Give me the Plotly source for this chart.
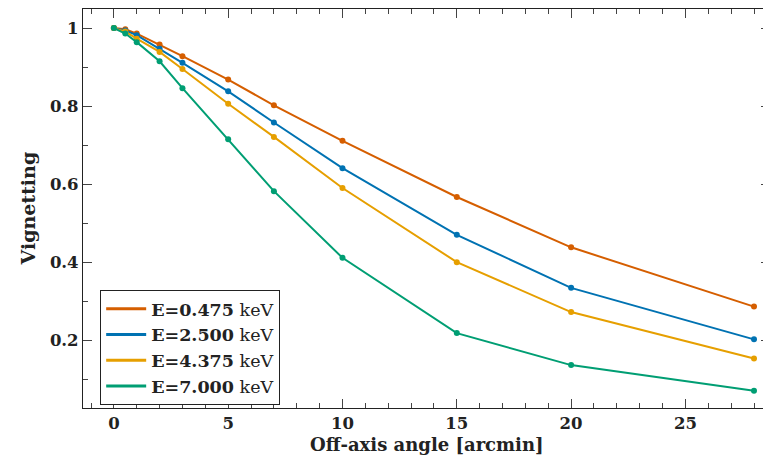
import plotly.graph_objects as go

angles = [0, 0.5, 1, 2, 3, 5, 7, 10, 15, 20, 28]
v_0475 = [1.0, 0.997, 0.986, 0.958, 0.928, 0.868, 0.802, 0.711, 0.567, 0.438, 0.286]
v_2500 = [1.0, 0.994, 0.982, 0.947, 0.911, 0.838, 0.758, 0.641, 0.470, 0.334, 0.202]
v_4375 = [1.0, 0.991, 0.973, 0.939, 0.895, 0.806, 0.721, 0.590, 0.400, 0.272, 0.153]
v_7000 = [1.0, 0.986, 0.964, 0.915, 0.846, 0.715, 0.582, 0.411, 0.218, 0.136, 0.070]

series = [
    ("0.475", v_0475, "#D55E00"),
    ("2.500", v_2500, "#0072B2"),
    ("4.375", v_4375, "#E69F00"),
    ("7.000", v_7000, "#009E73"),
]

FONT = "DejaVu Serif"

fig = go.Figure()
for lab, vals, col in series:
    fig.add_trace(go.Scatter(
        x=angles, y=vals, mode="lines+markers", showlegend=False,
        line=dict(color=col, width=2),
        marker=dict(color=col, size=6),
    ))
for lab, vals, col in series:
    fig.add_trace(go.Scatter(
        x=[None], y=[None], mode="lines",
        name=f"<b>E={lab}</b> keV",
        line=dict(color=col, width=3),
    ))

axis_common = dict(
    showline=True, linecolor="#222", linewidth=1.2, mirror="allticks",
    ticks="inside", tickcolor="#444", showgrid=False, zeroline=False,
    automargin=False,
    tickfont=dict(family=FONT, size=16.5, color="#222"),
)

fig.update_xaxes(
    **axis_common,
    range=[-1.35, 28.7], tickvals=[0, 5, 10, 15, 20, 25],
    ticktext=["<b>0</b>", "<b>5</b>", "<b>10</b>", "<b>15</b>", "<b>20</b>", "<b>25</b>"],
    ticklen=9, tickwidth=1,
    minor=dict(dtick=1, tick0=0, ticks="inside", ticklen=5, tickcolor="#444"),
)
fig.update_yaxes(
    **axis_common,
    range=[0.026, 1.049], tickvals=[0.2, 0.4, 0.6, 0.8, 1.0],
    ticktext=["<b>0.2</b>", "<b>0.4</b>", "<b>0.6</b>", "<b>0.8</b>", "<b>1</b>"],
    ticklen=9, tickwidth=1,
    minor=dict(dtick=0.1, tick0=0, ticks="inside", ticklen=5, tickcolor="#444"),
)

fig.add_annotation(
    text="<b>Off-axis angle [arcmin]</b>", xref="paper", yref="paper",
    x=0.5, y=0, yshift=-36, xanchor="center", yanchor="middle", showarrow=False,
    font=dict(family=FONT, size=18, color="#222"),
)
fig.add_annotation(
    text="<b>Vignetting</b>", xref="paper", yref="paper", textangle=-90,
    x=0, y=0.5, xshift=-56, xanchor="center", yanchor="middle", showarrow=False,
    font=dict(family=FONT, size=19, color="#222"),
)

fig.update_layout(
    width=763, height=455,
    margin=dict(l=75, r=1, t=1, b=55),
    paper_bgcolor="white", plot_bgcolor="white",
    legend=dict(
        x=0.025, y=0.296, xanchor="left", yanchor="top",
        bordercolor="#222", borderwidth=1, bgcolor="white",
        font=dict(family=FONT, size=17.5, color="#222"),
        tracegroupgap=0, itemwidth=40,
    ),
)

fig.write_html("out.html")
